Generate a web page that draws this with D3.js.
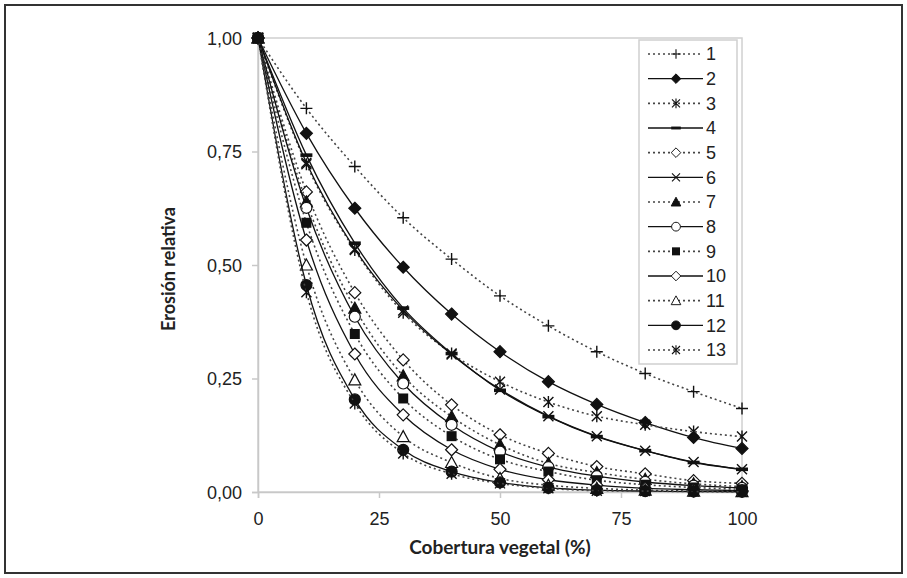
<!DOCTYPE html>
<html>
<head>
<meta charset="utf-8">
<script src="https://cdn.jsdelivr.net/npm/d3@7"></script>
<style>
  body { margin: 0; background: #fff; }
  svg { display: block; }
</style>
</head>
<body>
<div id="chart"></div>
<script>
// cover (%) at which each curve was sampled
const cover = [0, 10, 20, 30, 40, 50, 60, 70, 80, 90, 100];

const s1  = [1, 0.845, 0.717, 0.604, 0.513, 0.432, 0.366, 0.309, 0.261, 0.221, 0.184];
const s2  = [1, 0.790, 0.625, 0.495, 0.392, 0.309, 0.243, 0.193, 0.153, 0.120, 0.096];
const s3  = [1, 0.722, 0.533, 0.395, 0.305, 0.243, 0.198, 0.167, 0.148, 0.133, 0.122];
const s4  = [1, 0.742, 0.548, 0.405, 0.305, 0.224, 0.166, 0.122, 0.091, 0.065, 0.050];
const s5  = [1, 0.661, 0.439, 0.291, 0.192, 0.126, 0.085, 0.056, 0.040, 0.025, 0.019];
const s6  = [1, 0.725, 0.535, 0.400, 0.303, 0.226, 0.167, 0.123, 0.091, 0.066, 0.050];
const s7  = [1, 0.639, 0.405, 0.256, 0.166, 0.104, 0.063, 0.043, 0.028, 0.018, 0.012];
const s8  = [1, 0.626, 0.386, 0.239, 0.148, 0.089, 0.055, 0.035, 0.022, 0.014, 0.009];
const s9  = [1, 0.593, 0.348, 0.206, 0.123, 0.072, 0.045, 0.026, 0.016, 0.010, 0.006];
const s10 = [1, 0.555, 0.304, 0.170, 0.093, 0.050, 0.027, 0.015, 0.008, 0.005, 0.003];
const s11 = [1, 0.500, 0.247, 0.122, 0.065, 0.030, 0.015, 0.008, 0.004, 0.002, 0.001];
const s12 = [1, 0.456, 0.204, 0.093, 0.045, 0.021, 0.009, 0.004, 0.002, 0.001, 0.0005];
const s13 = [1, 0.440, 0.195, 0.085, 0.040, 0.019, 0.008, 0.003, 0.002, 0.001, 0.0005];

const seriesNames = ["1", "2", "3", "4", "5", "6", "7", "8", "9", "10", "11", "12", "13"];
const seriesValues = [s1, s2, s3, s4, s5, s6, s7, s8, s9, s10, s11, s12, s13];
const markers = ["plus", "diamondFill", "star", "dash", "diamondOpen", "cross",
                 "triFill", "circleOpen", "squareFill", "diamondOpen", "triOpen", "circleFill", "star"];
const dotted = [true, false, true, false, true, false, true, false, true, false, true, false, true];

const xTicks = [0, 25, 50, 75, 100];
const yTicks = [0, 0.25, 0.5, 0.75, 1];
const xTitle = "Cobertura vegetal (%)";
const yTitle = "Erosión relativa";

const W = 907, H = 578;
const plot = {left: 258, right: 742, top: 38, bottom: 492};
const LABEL_FONT = "'Liberation Sans', Arial, sans-serif";
const TITLE_FONT = "Lato, 'Open Sans', sans-serif";

const svg = d3.select("#chart").append("svg").attr("width", W).attr("height", H);

// outer frame
svg.append("rect").attr("x", 5).attr("y", 5).attr("width", W - 10).attr("height", H - 10)
  .attr("fill", "none").attr("stroke", "#333").attr("stroke-width", 2);

const x = d3.scaleLinear().domain([0, 100]).range([plot.left, plot.right]);
const y = d3.scaleLinear().domain([0, 1]).range([plot.bottom, plot.top]);

// plot area border (light grey)
svg.append("rect").attr("x", plot.left).attr("y", plot.top)
  .attr("width", plot.right - plot.left).attr("height", plot.bottom - plot.top)
  .attr("fill", "none").attr("stroke", "#d0d0d0").attr("stroke-width", 1.5);

const fmt = d => d3.format(".2f")(d).replace(".", ",");

const yAxis = svg.append("g").attr("transform", `translate(${plot.left},0)`)
  .call(d3.axisLeft(y).tickValues(yTicks).tickFormat(fmt).tickSize(6).tickPadding(10));
const xAxis = svg.append("g").attr("transform", `translate(0,${plot.bottom})`)
  .call(d3.axisBottom(x).tickValues(xTicks).tickFormat(d3.format("d")).tickSize(6).tickPadding(14));
[xAxis, yAxis].forEach(a => {
  a.attr("font-family", LABEL_FONT).attr("font-size", 18);
  a.select(".domain").attr("stroke", "#c8c8c8").attr("stroke-width", 1.5);
  a.selectAll(".tick line").attr("stroke", "#c8c8c8").attr("stroke-width", 1.5);
  a.selectAll(".tick text").attr("fill", "#222");
});
yAxis.selectAll(".tick text").attr("dy", "0.36em");

svg.append("text").attr("text-anchor", "middle")
  .attr("font-family", TITLE_FONT).attr("font-weight", "bold").attr("font-size", 19).attr("fill", "#222")
  .attr("x", (plot.left + plot.right) / 2).attr("y", 554).text(xTitle);
svg.append("text").attr("text-anchor", "middle")
  .attr("font-family", TITLE_FONT).attr("font-weight", "bold").attr("font-size", 18).attr("fill", "#222")
  .attr("transform", `translate(175,${(plot.top + plot.bottom) / 2 + 4}) rotate(-90)`).text(yTitle);

function drawMarker(g, type, cx, cy, s) {
  const m = g.append("g").attr("transform", `translate(${cx},${cy}) scale(${s})`);
  const k = "#111";
  switch (type) {
    case "plus":
      m.append("path").attr("d", "M-6,0H6M0,-6V6").attr("stroke", k).attr("stroke-width", 1.4).attr("fill", "none");
      break;
    case "cross":
      m.append("path").attr("d", "M-5,-5L5,5M-5,5L5,-5").attr("stroke", k).attr("stroke-width", 1.4).attr("fill", "none");
      break;
    case "star":
      m.append("path").attr("d", "M-5,-5L5,5M-5,5L5,-5M0,-6V6").attr("stroke", k).attr("stroke-width", 1.4).attr("fill", "none");
      break;
    case "dash":
      m.append("rect").attr("x", -6).attr("y", -1.8).attr("width", 12).attr("height", 3.6).attr("fill", k);
      break;
    case "diamondFill":
    case "diamondOpen":
      m.append("path").attr("d", "M0,-6L6,0L0,6L-6,0Z")
        .attr("fill", type === "diamondFill" ? k : "#fff").attr("stroke", k).attr("stroke-width", 1.2);
      break;
    case "triFill":
    case "triOpen":
      m.append("path").attr("d", "M0,-6L6,5L-6,5Z")
        .attr("fill", type === "triFill" ? k : "#fff").attr("stroke", k).attr("stroke-width", 1.2);
      break;
    case "circleFill":
    case "circleOpen":
      m.append("circle").attr("r", 5.5)
        .attr("fill", type === "circleFill" ? k : "#fff").attr("stroke", k).attr("stroke-width", 1.2);
      break;
    case "squareFill":
      m.append("rect").attr("x", -5).attr("y", -5).attr("width", 10).attr("height", 10).attr("fill", k);
      break;
  }
}

const line = d3.line().x(d => x(d[0])).y(d => y(d[1])).curve(d3.curveMonotoneX);

seriesValues.forEach((vals, i) => {
  const pts = cover.map((c, j) => [c, vals[j]]);
  const g = svg.append("g");
  g.append("path").datum(pts).attr("d", line).attr("fill", "none")
    .attr("stroke", dotted[i] ? "#444" : "#111")
    .attr("stroke-width", dotted[i] ? 1.6 : 1.3)
    .attr("stroke-dasharray", dotted[i] ? "2,3" : null);
  pts.forEach(p => drawMarker(g, markers[i], x(p[0]), y(p[1]), 1));
});

// the origin shows as a black square in the source (all markers stacked)
drawMarker(svg, "squareFill", x(cover[0]), y(s9[0]), 1.1);

// legend
const leg = {left: 639, top: 40, right: 737, bottom: 364};
svg.append("rect").attr("x", leg.left).attr("y", leg.top)
  .attr("width", leg.right - leg.left).attr("height", leg.bottom - leg.top)
  .attr("fill", "#fff").attr("stroke", "#cfcfcf").attr("stroke-width", 1.5);
const ly = d3.scalePoint().domain(seriesNames).range([54, 350]);
seriesNames.forEach((name, i) => {
  const cy = ly(name);
  const g = svg.append("g");
  g.append("line").attr("x1", 648).attr("x2", 703).attr("y1", cy).attr("y2", cy)
    .attr("stroke", dotted[i] ? "#444" : "#111")
    .attr("stroke-width", dotted[i] ? 1.6 : 1.3)
    .attr("stroke-dasharray", dotted[i] ? "2,3" : null);
  drawMarker(g, markers[i], 676, cy, 0.8);
  g.append("text").attr("font-family", LABEL_FONT).attr("font-size", 18).attr("fill", "#222")
    .attr("x", 706).attr("y", cy).attr("dy", "0.36em").text(name);
});
</script>
</body>
</html>
